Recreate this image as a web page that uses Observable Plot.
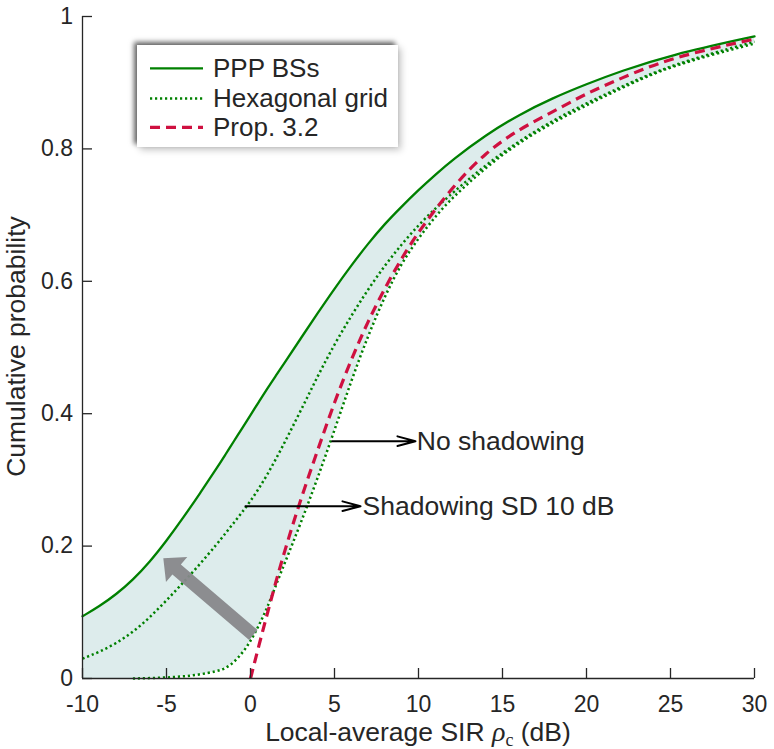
<!DOCTYPE html>
<html><head><meta charset="utf-8">
<script src="https://cdn.jsdelivr.net/npm/d3@7"></script>
<script src="https://cdn.jsdelivr.net/npm/@observablehq/plot@0.6"></script>
<style>
html,body{margin:0;padding:0;background:#fff;}
#wrap{position:relative;width:774px;height:749px;font-family:Arial,"Liberation Sans",Helvetica,sans-serif;color:#262626;}
#legendBox{position:absolute;left:137px;top:45px;width:261px;height:102px;background:#fff;box-shadow:-3px -3px 5px rgba(0,0,0,0.6),3px 3px 7px rgba(0,0,0,0.22);}
#legendBox svg{position:absolute;left:0;top:0;}
</style></head>
<body><div id="wrap"></div>
<script>
// ---- data ----
const xGrid = [-10,-9,-8,-7,-6,-5,-4,-3,-2,-1.5,-1,-0.5,0,0.5,1,1.5,2,3,4,5,6,7,8,9,10,11,12,14,16,18,20,22,25,30];
const pppBS = [0.094,0.109,0.127,0.149,0.176,0.208,0.243,0.28,0.318,0.338,0.358,0.378,0.398,0.418,0.438,0.457,0.476,0.514,0.552,0.589,0.624,0.657,0.687,0.713,0.738,0.761,0.783,0.821,0.852,0.877,0.898,0.917,0.942,0.970];
const hexShadow = [0.030,0.040,0.053,0.070,0.092,0.118,0.145,0.173,0.203,0.219,0.235,0.251,0.268,0.287,0.308,0.331,0.355,0.405,0.457,0.505,0.548,0.588,0.624,0.656,0.685,0.71,0.733,0.776,0.812,0.843,0.869,0.893,0.927,0.962];
const hexNoShadow = [0,0,0,0,0.0005,0.0015,0.003,0.006,0.011,0.015,0.024,0.038,0.056,0.08,0.107,0.14,0.172,0.235,0.303,0.375,0.45,0.518,0.578,0.628,0.665,0.698,0.726,0.772,0.81,0.84,0.866,0.891,0.926,0.959];
const hexNoShadowStart = -7;   // the curve is drawn from here on
const propX = [0,0.5,1,1.5,2,3,4,5,6,7,8,9,10,12,14,16,18,20,22,25,30];
const propY = [0,0.05,0.098,0.145,0.19,0.272,0.345,0.418,0.482,0.54,0.59,0.635,0.675,0.742,0.795,0.83,0.856,0.884,0.906,0.938,0.966];
const xTicks = [-10,-5,0,5,10,15,20,25,30];
const yTicks = [0,0.2,0.4,0.6,0.8,1];
const legendLabels = ["PPP BSs","Hexagonal grid","Prop. 3.2"];
const noteLabels = ["No shadowing","Shadowing SD 10 dB"];
const noteFromX = [4.86,-0.3];
const noteToX = [9.82,6.55];
const noteY = [0.3585,0.2603];
const noteTextX = [9.9,6.67];
const trendFrom = [0.2,0.065];   // tail of the gray arrow (x, y)
const trendTo = [-5.16,0.181];   // tip of the gray arrow (x, y)

// ---- styles ----
const GREEN = "#008000", RED = "#cf1040", FILL = "#ddecec", GRAY = "#87888b", INK = "#262626";
const FONT = 'Arial,"Liberation Sans",Helvetica,sans-serif';
const DOTS = "2.2,2.8", DASH = "10,6";

const rows = xGrid.map((x,i)=>({x, ppp:pppBS[i], hs:hexShadow[i], hn:hexNoShadow[i]}));
const prop = propX.map((x,i)=>({x, y:propY[i]}));
const notes = noteLabels.map((t,i)=>({t, x1:noteFromX[i], x2:noteToX[i], y:noteY[i], tx:noteTextX[i]}));

function trendArrow(index, scales) {
  const X = scales.x, Y = scales.y;
  const sx = X(trendFrom[0]), sy = Y(trendFrom[1]), tx = X(trendTo[0]), ty = Y(trendTo[1]);
  const dx = tx - sx, dy = ty - sy, L = Math.hypot(dx, dy);
  const ux = dx/L, uy = dy/L, px = -uy, py = ux;
  const hw = 6.5, hl = 17.5, hh = 16.4;
  const bx = tx - ux*hl, by = ty - uy*hl;
  const pts = [
    [sx + px*hw, sy + py*hw], [bx + px*hw, by + py*hw], [bx + px*hh, by + py*hh],
    [tx, ty], [bx - px*hh, by - py*hh], [bx - px*hw, by - py*hw], [sx - px*hw, sy - py*hw]
  ];
  const p = document.createElementNS("http://www.w3.org/2000/svg","path");
  p.setAttribute("d","M" + pts.map(q=>q[0].toFixed(2)+","+q[1].toFixed(2)).join("L") + "Z");
  p.setAttribute("fill", GRAY);
  p.setAttribute("fill-opacity", "0.95");
  return p;
}

const chart = Plot.plot({
  width: 774, height: 749,
  marginLeft: 82, marginRight: 20, marginTop: 16, marginBottom: 71,
  x: {domain: [-10, 30]},
  y: {domain: [0, 1]},
  style: {fontFamily: FONT, fontSize: "23px", color: INK, background: "transparent", overflow: "visible"},
  marks: [
    Plot.areaY(rows, {x: "x", y1: "hn", y2: "ppp", fill: FILL, curve: "basis"}),
    Plot.line(rows, {x: "x", y: "hs", stroke: GREEN, strokeWidth: 2.5, strokeDasharray: DOTS, strokeLinecap: "butt", curve: "basis"}),
    Plot.line(rows, {filter: d => d.x >= hexNoShadowStart, x: "x", y: "hn", stroke: GREEN, strokeWidth: 2.5, strokeDasharray: DOTS, strokeLinecap: "butt", curve: "basis"}),
    Plot.line(rows, {x: "x", y: "ppp", stroke: GREEN, strokeWidth: 2.3, curve: "basis"}),
    Plot.line(prop, {x: "x", y: "y", stroke: RED, strokeWidth: 3.2, strokeDasharray: DASH, strokeLinecap: "butt", curve: "basis"}),
    trendArrow,
    Plot.arrow(notes, {x1: "x1", y1: "y", x2: "x2", y2: "y", stroke: "#000", strokeWidth: 2, headLength: 14, headAngle: 30}),
    Plot.text(notes, {x: "tx", y: "y", text: "t", textAnchor: "start", fontSize: 26.5, fill: INK}),
    Plot.ruleY([0], {stroke: INK, strokeWidth: 1.3}),
    Plot.ruleX([-10], {stroke: INK, strokeWidth: 1.3}),
    Plot.axisX(xTicks, {tickSize: -10, tickPadding: 27, tickFormat: d => String(d), label: null, strokeWidth: 1.3}),
    Plot.axisY(yTicks, {tickSize: -10, tickPadding: 19.5, tickFormat: d => String(d), label: null, strokeWidth: 1.3})
  ]
});

const wrap = document.getElementById("wrap");
wrap.appendChild(chart);
chart.style.position = "absolute"; chart.style.left = "0"; chart.style.top = "0";

// axis titles
const s = d3.select(chart);
const xl = s.append("text").attr("x", 418).attr("y", 741).attr("text-anchor", "middle")
  .attr("font-size", 26.5).attr("fill", INK).attr("font-family", FONT);
xl.append("tspan").text("Local-average SIR ");
xl.append("tspan").attr("font-family", '"Liberation Serif","DejaVu Serif",serif').attr("font-style", "italic").attr("font-size", 28).text("ρ");
xl.append("tspan").attr("font-family", '"Liberation Serif","DejaVu Serif",serif').attr("font-size", 18).attr("dy", 5).text("c");
xl.append("tspan").attr("dy", -5).text(" (dB)");
s.append("text").attr("transform", "translate(25,346.5) rotate(-90)").attr("text-anchor", "middle")
  .attr("font-size", 26.5).attr("fill", INK).attr("font-family", FONT).text("Cumulative probability");

// legend
const box = document.createElement("div");
box.id = "legendBox";
wrap.appendChild(box);
const lg = d3.select(box).append("svg").attr("width", 261).attr("height", 102);
const lineY = [23.3, 53.5, 82.3];
const lgStyles = [
  {stroke: GREEN, w: 2.3, dash: null},
  {stroke: GREEN, w: 2.5, dash: DOTS},
  {stroke: RED, w: 3.2, dash: DASH}
];
legendLabels.forEach((t, i) => {
  const l = lg.append("line").attr("x1", 13).attr("x2", 66).attr("y1", lineY[i]).attr("y2", lineY[i])
    .attr("stroke", lgStyles[i].stroke).attr("stroke-width", lgStyles[i].w);
  if (lgStyles[i].dash) l.attr("stroke-dasharray", lgStyles[i].dash);
  lg.append("text").attr("x", 76).attr("y", lineY[i] + 8.8).attr("font-size", 26)
    .attr("font-family", FONT).attr("fill", INK).text(t);
});
</script>
</body></html>
